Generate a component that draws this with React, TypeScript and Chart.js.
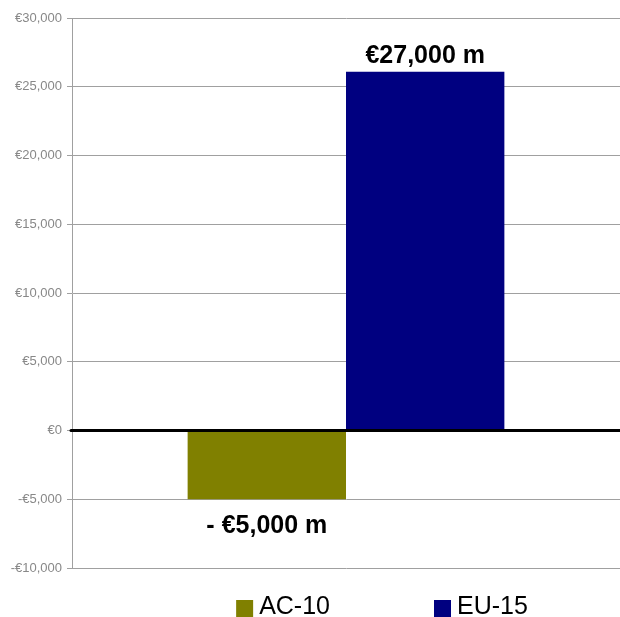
import React, { useEffect, useRef } from "react";
import { Chart, registerables } from "chart.js";

Chart.register(...registerables);

const categories = [""];
const seriesNames = ["AC-10", "EU-15"];
const seriesValues = [-5000, 26100];
const seriesColors = ["#808000", "#000080"];
const valueLabels = ["- €5,000 m", "€27,000 m"];
const yMin = -10000;
const yMax = 30000;
const yStep = 5000;

const FONT = "'Liberation Sans', Arial, Helvetica, sans-serif";

function fmtEuro(v: number): string {
  const s = "€" + Math.abs(v).toLocaleString("en-US");
  return v < 0 ? "-" + s : s;
}

const overlayPlugin = {
  id: "overlay",
  afterDatasetsDraw(chart: any) {
    const { ctx, chartArea, scales } = chart;
    const y0 = scales.y.getPixelForValue(0);
    ctx.save();
    // zero line
    ctx.strokeStyle = "#000";
    ctx.lineWidth = 3;
    ctx.lineCap = "round";
    ctx.beginPath();
    ctx.moveTo(chartArea.left - 1, y0);
    ctx.lineTo(chartArea.right + 2, y0);
    ctx.stroke();
    // value labels
    ctx.fillStyle = "#000";
    ctx.font = `bold 25px ${FONT}`;
    ctx.textAlign = "center";
    ctx.textBaseline = "alphabetic";
    chart.data.datasets.forEach((ds: any, i: number) => {
      const meta = chart.getDatasetMeta(i);
      const el = meta.data[0];
      if (!el) return;
      const v = ds.data[0];
      if (v >= 0) {
        ctx.fillText(valueLabels[i], el.x, el.y - 9);
      } else {
        ctx.fillText(valueLabels[i], el.x, el.y + 34);
      }
    });
    // legend
    ctx.font = `25px ${FONT}`;
    ctx.textAlign = "left";
    const box = 17;
    const gapText = 6;
    const gapItems = 104;
    const widths = seriesNames.map((n) => box + gapText + ctx.measureText(n).width);
    const total = widths.reduce((a, b) => a + b, 0) + gapItems * (widths.length - 1);
    let x = (chartArea.left + chartArea.right) / 2 + 36 - total / 2;
    const baseY = chart.height - 3;
    seriesNames.forEach((n, i) => {
      ctx.fillStyle = seriesColors[i];
      ctx.fillRect(x, baseY - 14, box, box);
      ctx.fillStyle = "#000";
      ctx.fillText(n, x + box + gapText, baseY);
      x += widths[i] + gapItems;
    });
    ctx.restore();
  },
};

export default function App() {
  const ref = useRef<HTMLCanvasElement | null>(null);
  useEffect(() => {
    if (!ref.current) return;
    const chart = new Chart(ref.current, {
      type: "bar",
      data: {
        labels: categories,
        datasets: seriesNames.map((n, i) => ({
          label: n,
          data: [seriesValues[i]],
          backgroundColor: seriesColors[i],
          borderWidth: 0,
          categoryPercentage: 0.578,
          barPercentage: 1,
        })),
      },
      options: {
        animation: false,
        responsive: false,
        layout: { padding: { top: 18, bottom: 49, left: 0, right: 0 } },
        plugins: { legend: { display: false }, tooltip: { enabled: false } },
        scales: {
          x: { display: false },
          y: {
            min: yMin,
            max: yMax,
            afterFit(scale: any) {
              scale.width = 72;
            },
            ticks: {
              stepSize: yStep,
              color: "#888",
              padding: 5,
              font: { family: FONT, size: 13 },
              callback: (v: any) => fmtEuro(Number(v)),
            },
            grid: {
              color: "#a0a0a0",
              lineWidth: 1,
              tickLength: 5,
              tickColor: "#a0a0a0",
            },
            border: { display: true, color: "#a0a0a0", width: 1 },
          },
        },
      },
      plugins: [overlayPlugin],
    });
    return () => chart.destroy();
  }, []);
  return (
    <div style={{ position: "absolute", left: 0, top: 0, width: 620, height: 617, background: "#fff" }}>
      <canvas ref={ref} width={620} height={617} />
    </div>
  );
}
